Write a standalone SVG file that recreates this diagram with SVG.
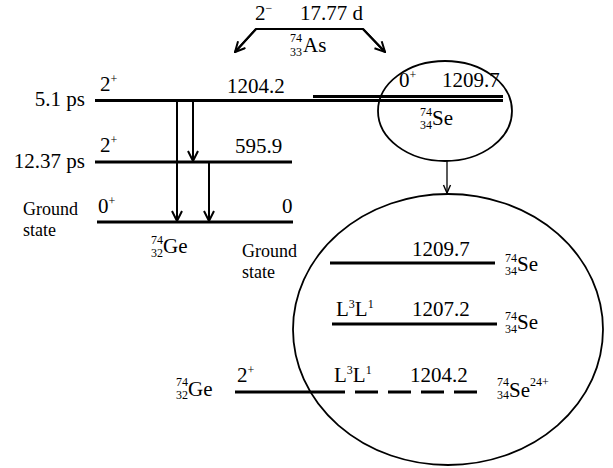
<svg xmlns="http://www.w3.org/2000/svg" width="613" height="468" viewBox="0 0 613 468">
<style>
text{font-family:"Liberation Serif","Times New Roman",Tinos,"DejaVu Serif","Noto Serif",serif;font-size:21px;fill:#000}
.s{font-size:12px}
.gs{font-size:18px}
.lv{stroke:#000;stroke-width:3;fill:none}
.ar{stroke:#000;stroke-width:2;fill:none}
.el{stroke:#000;stroke-width:1.8;fill:none}
</style>
<defs>
<marker id="ah" viewBox="0 0 12 12" refX="11" refY="6" markerWidth="12" markerHeight="12" markerUnits="userSpaceOnUse" orient="auto">
<path d="M1,1 L11,6 L1,11" fill="none" stroke="#000" stroke-width="2"/>
</marker>
<marker id="ah2" viewBox="0 0 10 10" refX="9" refY="5" markerWidth="10" markerHeight="10" markerUnits="userSpaceOnUse" orient="auto">
<path d="M1,1.5 L9,5 L1,8.5" fill="none" stroke="#000" stroke-width="1.4"/>
</marker>
</defs>

<g id="as74">
<text x="255" y="20">2<tspan class="s" dy="-8">−</tspan></text>
<text x="300" y="20">17.77 d</text>
<text class="s" x="302" y="42" text-anchor="end">74</text>
<text class="s" x="302" y="56" text-anchor="end">33</text>
<text x="303" y="52">As</text>
</g>

<g id="ge-1204">
<line class="lv" x1="95" y1="100.5" x2="503" y2="100.5"/>
<text x="85" y="106" text-anchor="end">5.1 ps</text>
<text x="100" y="91">2<tspan class="s" dy="-8">+</tspan></text>
<text x="227" y="93">1204.2</text>
</g>

<g id="ge-596">
<line class="lv" x1="95" y1="162" x2="292" y2="162"/>
<text x="85" y="168" text-anchor="end">12.37 ps</text>
<text x="100" y="152">2<tspan class="s" dy="-8">+</tspan></text>
<text x="235" y="153">595.9</text>
</g>

<g id="ge-ground">
<line class="lv" x1="97" y1="222" x2="293" y2="222"/>
<text class="gs" x="23" y="215">Ground</text>
<text class="gs" x="23" y="236">state</text>
<text x="98" y="213">0<tspan class="s" dy="-8">+</tspan></text>
<text x="282" y="213">0</text>
<text class="s" x="163" y="244" text-anchor="end">74</text>
<text class="s" x="163" y="257" text-anchor="end">32</text>
<text x="163" y="253">Ge</text>
</g>

<g id="se-top">
<ellipse class="el" cx="445" cy="111" rx="67" ry="50"/>
<line class="lv" x1="313" y1="96.5" x2="503" y2="96.5" stroke-width="2.5"/>
<text x="399" y="87">0<tspan class="s" dy="-8">+</tspan></text>
<text x="442" y="87">1209.7</text>
<text class="s" x="432" y="116" text-anchor="end">74</text>
<text class="s" x="432" y="129" text-anchor="end">34</text>
<text x="432" y="125">Se</text>
</g>

<g id="big">
<ellipse class="el" cx="448" cy="329.5" rx="155" ry="135.5"/>
<text class="gs" x="242" y="257">Ground</text>
<text class="gs" x="242" y="278">state</text>
<line class="lv" x1="330" y1="263" x2="495" y2="263"/>
<text x="412" y="256">1209.7</text>
<text class="s" x="517" y="262" text-anchor="end">74</text>
<text class="s" x="517" y="275" text-anchor="end">34</text>
<text x="517" y="271">Se</text>
<line class="lv" x1="332" y1="324" x2="497" y2="324"/>
<text x="336" y="316">L<tspan class="s" dy="-8">3</tspan><tspan dy="8">L</tspan><tspan class="s" dy="-8">1</tspan></text>
<text x="412" y="316">1207.2</text>
<text class="s" x="517" y="320" text-anchor="end">74</text>
<text class="s" x="517" y="333" text-anchor="end">34</text>
<text x="517" y="329">Se</text>
</g>

<g id="bottom">
<line class="lv" x1="235" y1="392" x2="345" y2="392"/>
<line class="lv" x1="355" y1="392" x2="481" y2="392" stroke-dasharray="23 10"/>
<text class="s" x="188" y="386" text-anchor="end">74</text>
<text class="s" x="188" y="399" text-anchor="end">32</text>
<text x="188" y="396">Ge</text>
<text x="237" y="382">2<tspan class="s" dy="-8">+</tspan></text>
<text x="334" y="382">L<tspan class="s" dy="-8">3</tspan><tspan dy="8">L</tspan><tspan class="s" dy="-8">1</tspan></text>
<text x="410" y="382">1204.2</text>
<text class="s" x="509" y="386" text-anchor="end">74</text>
<text class="s" x="509" y="399" text-anchor="end">34</text>
<text x="509" y="397">Se<tspan class="s" dy="-11">24+</tspan></text>
</g>

<g id="connectors">
<polyline class="ar" points="235,52 256,29 363,29 385,52"/>
<line class="ar" x1="256" y1="29" x2="235" y2="52" marker-end="url(#ah)"/>
<line class="ar" x1="363" y1="29" x2="385" y2="52" marker-end="url(#ah)"/>
<line class="ar" x1="177" y1="101" x2="177" y2="221" marker-end="url(#ah)"/>
<line class="ar" x1="193" y1="101" x2="193" y2="161" marker-end="url(#ah)"/>
<line class="ar" x1="209" y1="162" x2="209" y2="221" marker-end="url(#ah)"/>
<line x1="447" y1="161" x2="447" y2="193" stroke="#000" stroke-width="1.3" marker-end="url(#ah2)"/>
</g>
</svg>
